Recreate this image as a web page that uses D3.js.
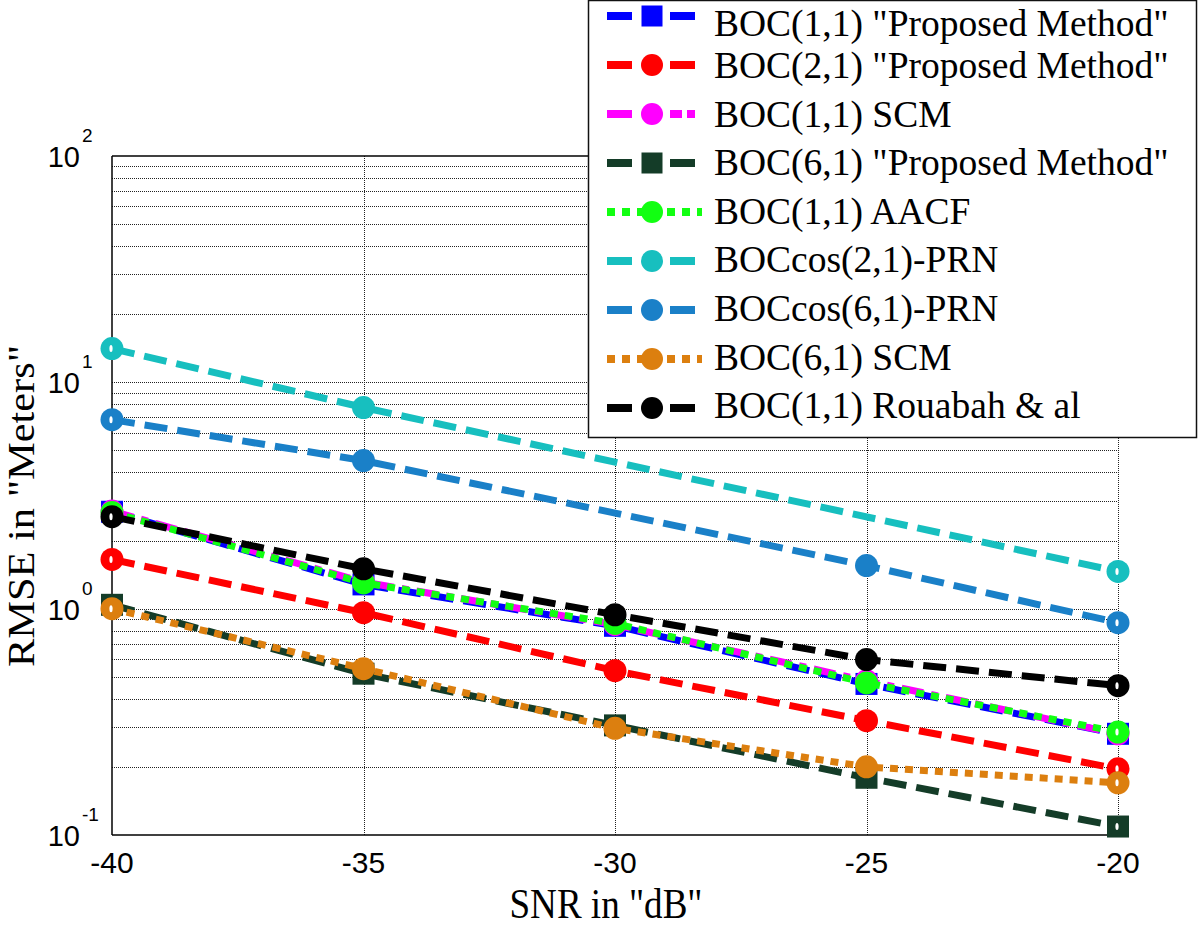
<!DOCTYPE html>
<html>
<head>
<meta charset="utf-8">
<script src="https://cdn.jsdelivr.net/npm/d3@7/dist/d3.min.js"></script>
<style>
html,body{margin:0;padding:0;background:#fff;}
svg{display:block;}
</style>
</head>
<body>
<svg id="chart" width="1200" height="926"></svg>
<script>
// ---- data ----
const snr = [-40, -35, -30, -25, -20];
const snrBoccos21 = [-40, -35, -20];
const snrBoccos61 = [-40, -35, -25, -20];

const boc11Proposed = [2.68, 1.28, 0.84, 0.465, 0.28];
const boc21Proposed = [1.65, 0.96, 0.532, 0.320, 0.196];
const boc11SCM      = [2.70, 1.31, 0.85, 0.48, 0.28];
const boc61Proposed = [1.04, 0.516, 0.305, 0.179, 0.109];
const boc11AACF     = [2.66, 1.30, 0.86, 0.47, 0.285];
const boccos21PRN   = [14.1, 7.74, 1.46];
const boccos61PRN   = [6.84, 4.51, 1.55, 0.867];
const boc61SCM      = [1.0, 0.543, 0.296, 0.200, 0.170];
const boc11Rouabah  = [2.55, 1.50, 0.94, 0.596, 0.457];

const seriesNames = [
  'BOC(1,1) "Proposed Method"',
  'BOC(2,1) "Proposed Method"',
  'BOC(1,1) SCM',
  'BOC(6,1) "Proposed Method"',
  'BOC(1,1) AACF',
  'BOCcos(2,1)-PRN',
  'BOCcos(6,1)-PRN',
  'BOC(6,1) SCM',
  'BOC(1,1) Rouabah & al'
];
const xTicks = [-40, -35, -30, -25, -20];
const yDecades = [0.1, 1, 10, 100];
const yDecadeExp = ["-1", "0", "1", "2"];

// ---- styles ----
const DASH = "23,10", DOT = "8,7", DASHDOT = "22,8,7,8";
const LEG_DASH = "25,38,25,10", LEG_DOT = "8,7", LEG_DASHDOT = "25,38,12,5,8,10";
const series = [
  {name: seriesNames[0], x: snr, y: boc11Proposed, color: "#0000ff", dash: DASH, leg: LEG_DASH, marker: "square"},
  {name: seriesNames[1], x: snr, y: boc21Proposed, color: "#ff0000", dash: DASH, leg: LEG_DASH, marker: "circle"},
  {name: seriesNames[2], x: snr, y: boc11SCM, color: "#ff00ff", dash: DASHDOT, leg: LEG_DASHDOT, marker: "circle"},
  {name: seriesNames[3], x: snr, y: boc61Proposed, color: "#143c28", dash: DASH, leg: LEG_DASH, marker: "square"},
  {name: seriesNames[4], x: snr, y: boc11AACF, color: "#12ff12", dash: DOT, leg: LEG_DOT, marker: "circle"},
  {name: seriesNames[5], x: snrBoccos21, y: boccos21PRN, color: "#17bfbf", dash: DASH, leg: LEG_DASH, marker: "circle"},
  {name: seriesNames[6], x: snrBoccos61, y: boccos61PRN, color: "#1a80c8", dash: DASH, leg: LEG_DASH, marker: "circle"},
  {name: seriesNames[7], x: snr, y: boc61SCM, color: "#dc7f0f", dash: DOT, leg: LEG_DOT, marker: "circle"},
  {name: seriesNames[8], x: snr, y: boc11Rouabah, color: "#000000", dash: DASH, leg: LEG_DASH, marker: "circle"}
];

const svg = d3.select("#chart");
const L = 112, R = 1118, T = 156, B = 835;
const x = d3.scaleLinear().domain([-40, -20]).range([L, R]);
const y = d3.scaleLog().domain([0.1, 100]).range([B, T]);

// ---- grid ----
const grid = svg.append("g");
const minorVals = [];
for (let d = 0.1; d < 100; d *= 10) {
  for (let k = 1; k <= 9; k++) minorVals.push(+(d * k).toPrecision(3));
}
grid.selectAll("line.h").data(minorVals.filter(v => v > 0.1 && v < 100)).enter()
  .append("line")
  .attr("x1", L).attr("x2", R)
  .attr("y1", d => Math.round(y(d)) + 0.5).attr("y2", d => Math.round(y(d)) + 0.5)
  .attr("stroke", "#222").attr("stroke-width", 1).attr("stroke-dasharray", "1,1");
grid.selectAll("line.v").data(xTicks.filter(v => v > -40)).enter()
  .append("line")
  .attr("x1", d => Math.round(x(d)) + 0.5).attr("x2", d => Math.round(x(d)) + 0.5)
  .attr("y1", T).attr("y2", B)
  .attr("stroke", "#222").attr("stroke-width", 1).attr("stroke-dasharray", "1,1");

// axes lines
const ax = svg.append("g");
ax.append("line").attr("x1", L).attr("x2", L).attr("y1", T).attr("y2", B).attr("stroke", "#000").attr("stroke-width", 1.5);
ax.append("line").attr("x1", L).attr("x2", R + 2).attr("y1", B).attr("y2", B).attr("stroke", "#000").attr("stroke-width", 1.5);
ax.append("line").attr("x1", L).attr("x2", R).attr("y1", T).attr("y2", T).attr("stroke", "#000").attr("stroke-width", 1.5);

// x tick labels
ax.selectAll("text.xt").data(xTicks).enter().append("text")
  .attr("x", d => x(d)).attr("y", 873)
  .attr("text-anchor", "middle")
  .attr("font-family", "Liberation Sans, Arial, sans-serif")
  .attr("font-size", 30)
  .text(d => d);

// y tick labels
yDecades.forEach((v, i) => {
  ax.append("text").attr("x", 80).attr("y", y(v) + 11)
    .attr("text-anchor", "end")
    .attr("font-family", "Liberation Sans, Arial, sans-serif")
    .attr("font-size", 29).text("10");
  ax.append("text").attr("x", 82).attr("y", y(v) - 14)
    .attr("text-anchor", "start")
    .attr("font-family", "Liberation Sans, Arial, sans-serif")
    .attr("font-size", 19).text(yDecadeExp[i]);
});

// axis labels
svg.append("text").attr("x", 606).attr("y", 918)
  .attr("text-anchor", "middle")
  .attr("font-family", "Liberation Serif, Times New Roman, serif")
  .attr("font-size", 42).attr("textLength", 193).attr("lengthAdjust", "spacingAndGlyphs")
  .text('SNR in "dB"');
svg.append("text").attr("transform", "translate(34,506) rotate(-90)")
  .attr("text-anchor", "middle")
  .attr("font-family", "Liberation Serif, Times New Roman, serif")
  .attr("font-size", 38).attr("textLength", 322).attr("lengthAdjust", "spacingAndGlyphs")
  .text('RMSE in "Meters"');

// ---- series ----
function drawMarker(g, type, cx, cy, color, hollow, size) {
  const h = size / 2;
  if (type === "square") {
    g.append("rect").attr("x", cx - h).attr("y", cy - h).attr("width", size).attr("height", size).attr("fill", color);
  } else {
    g.append("circle").attr("cx", cx).attr("cy", cy).attr("r", h + 0.5).attr("fill", color);
  }
  if (hollow) {
    g.append("ellipse").attr("cx", cx - 1).attr("cy", cy).attr("rx", 1.6).attr("ry", 3.5).attr("fill", "#fff");
  }
}

const plot = svg.append("g");
const line = d3.line().x(d => x(d[0])).y(d => y(d[1]));
series.forEach(s => {
  const g = plot.append("g");
  const pts = s.x.map((xv, i) => [xv, s.y[i]]);
  g.append("path").datum(pts).attr("d", line)
    .attr("fill", "none").attr("stroke", s.color).attr("stroke-width", 7)
    .attr("stroke-dasharray", s.dash).attr("stroke-linecap", "butt");
  pts.forEach(p => drawMarker(g, s.marker, x(p[0]), y(p[1]), s.color, p[0] === -40 || p[0] === -20, 22));
});

// ---- legend ----
const lg = svg.append("g");
lg.append("rect").attr("x", 588.5).attr("y", 0.5).attr("width", 608).attr("height", 437)
  .attr("fill", "#fff").attr("stroke", "#111").attr("stroke-width", 1.5);
series.forEach((s, i) => {
  const ry = 16 + i * 49;
  const ty = i === 0 ? 36 : 78 + (i - 1) * 48.6;
  const row = lg.append("g");
  row.append("line").attr("x1", 607).attr("x2", 702).attr("y1", ry).attr("y2", ry)
    .attr("stroke", s.color).attr("stroke-width", 8).attr("stroke-dasharray", s.leg);
  drawMarker(row, s.marker, 652, ry, s.color, false, 21);
  row.append("text").attr("x", 714).attr("y", ty)
    .attr("font-family", "Liberation Serif, Times New Roman, serif")
    .attr("font-size", 37.5).attr("fill", "#000")
    .text(s.name);
});
</script>
</body>
</html>
